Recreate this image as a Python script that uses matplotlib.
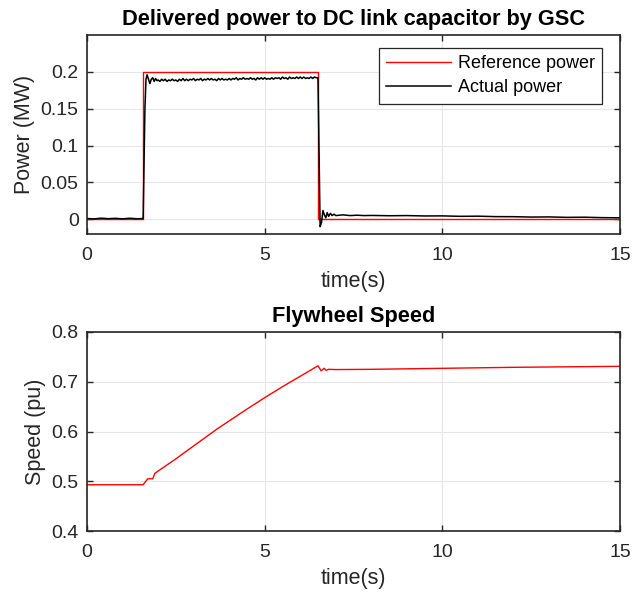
import matplotlib
matplotlib.use("Agg")
import matplotlib.pyplot as plt

plt.rcParams['font.family'] = ['Liberation Sans', 'DejaVu Sans']

# ---------------- data ----------------
ref_t = [0.0, 1.58, 1.58, 6.50, 6.50, 15.0]
ref_p = [0.0, 0.0, 0.2, 0.2, 0.0, 0.0]

act_t_pre = [0.0, 0.2, 0.4, 0.6, 0.8, 1.0, 1.2, 1.4, 1.58]
act_p_pre = [0.001, 0.0005, 0.0015, 0.0008, 0.0013, 0.0006, 0.0014, 0.0007, 0.001]

act_t_rise = [1.60, 1.63, 1.66, 1.69, 1.73, 1.77, 1.81, 1.85, 1.89, 1.93, 1.97]
act_p_rise = [0.06, 0.15, 0.19, 0.196, 0.190, 0.184, 0.190, 0.192, 0.187, 0.191, 0.188]

act_t_flat = [2.00, 2.05, 2.10, 2.15, 2.20, 2.25, 2.30, 2.35, 2.40, 2.45,
              2.50, 2.55, 2.60, 2.65, 2.70, 2.75, 2.80, 2.85, 2.90, 2.95,
              3.00, 3.05, 3.10, 3.15, 3.20, 3.25, 3.30, 3.35, 3.40, 3.45,
              3.50, 3.55, 3.60, 3.65, 3.70, 3.75, 3.80, 3.85, 3.90, 3.95,
              4.00, 4.05, 4.10, 4.15, 4.20, 4.25, 4.30, 4.35, 4.40, 4.45,
              4.50, 4.55, 4.60, 4.65, 4.70, 4.75, 4.80, 4.85, 4.90, 4.95,
              5.00, 5.05, 5.10, 5.15, 5.20, 5.25, 5.30, 5.35, 5.40, 5.45,
              5.50, 5.55, 5.60, 5.65, 5.70, 5.75, 5.80, 5.85, 5.90, 5.95,
              6.00, 6.05, 6.10, 6.15, 6.20, 6.25, 6.30, 6.35, 6.40, 6.45]
act_p_flat = [0.189, 0.187, 0.190, 0.188, 0.190, 0.187, 0.189, 0.188, 0.190, 0.188,
              0.189, 0.187, 0.190, 0.188, 0.191, 0.188, 0.190, 0.188, 0.190, 0.189,
              0.191, 0.188, 0.190, 0.189, 0.191, 0.188, 0.190, 0.189, 0.191, 0.189,
              0.191, 0.189, 0.190, 0.188, 0.191, 0.189, 0.191, 0.189, 0.190, 0.189,
              0.191, 0.189, 0.191, 0.190, 0.192, 0.189, 0.191, 0.190, 0.192, 0.190,
              0.191, 0.190, 0.192, 0.190, 0.191, 0.189, 0.192, 0.190, 0.192, 0.190,
              0.192, 0.190, 0.191, 0.190, 0.192, 0.190, 0.192, 0.191, 0.192, 0.190,
              0.193, 0.191, 0.192, 0.190, 0.193, 0.191, 0.192, 0.191, 0.193, 0.191,
              0.193, 0.191, 0.193, 0.191, 0.192, 0.191, 0.193, 0.191, 0.193, 0.192]

act_t_fall = [6.50, 6.56, 6.60, 6.64, 6.68, 6.72, 6.76, 6.80, 6.85, 6.90, 6.95,
              7.0, 7.2, 7.4, 7.6, 7.8, 8.0, 8.5, 9.0, 9.5, 10.0, 10.5, 11.0,
              11.5, 12.0, 12.5, 13.0, 13.5, 14.0, 14.5, 15.0]
act_p_fall = [0.192, -0.010, -0.004, 0.012, 0.006, 0.002, 0.009, 0.004, 0.008, 0.005, 0.007,
              0.005, 0.006, 0.005, 0.0055, 0.005, 0.0052, 0.0048, 0.005, 0.0045, 0.0046, 0.004, 0.0042,
              0.0036, 0.0035, 0.003, 0.0032, 0.0026, 0.0028, 0.0022, 0.002]

act_t = act_t_pre + act_t_rise + act_t_flat + act_t_fall
act_p = act_p_pre + act_p_rise + act_p_flat + act_p_fall

spd_t = [0.0, 1.58, 1.71, 1.85, 1.91, 2.5, 3.0, 3.68, 4.5, 5.0, 5.5, 6.0, 6.5,
         6.59, 6.67, 6.73, 6.80, 7.0, 8.0, 10.0, 12.0, 15.0]
spd_v = [0.493, 0.493, 0.505, 0.505, 0.516, 0.545, 0.571, 0.606, 0.645, 0.668, 0.690, 0.711, 0.732,
         0.722, 0.727, 0.723, 0.725, 0.7245, 0.725, 0.727, 0.729, 0.731]

top_yticks = [0, 0.05, 0.1, 0.15, 0.2]
bot_yticks = [0.4, 0.5, 0.6, 0.7, 0.8]
xticks = [0, 5, 10, 15]

# ---------------- figure ----------------
fig = plt.figure(figsize=(6.43, 5.92), dpi=100)
ax1 = fig.add_axes([0.1353, 0.6047, 0.829, 0.3362])
ax2 = fig.add_axes([0.1353, 0.1030, 0.829, 0.3362])

dark = '#262626'
TICK = 14
LAB = 15.5
TITLE = 15.7

def style(ax):
    ax.grid(True, color='#e6e6e6', linewidth=0.8)
    ax.set_axisbelow(True)
    for s in ax.spines.values():
        s.set_color(dark)
        s.set_linewidth(1.2)
    ax.tick_params(direction='in', top=True, right=True, length=4, width=1.0,
                   colors=dark, labelsize=TICK, labelcolor=dark)
    ax.tick_params(axis='x', pad=9)
    ax.tick_params(axis='y', pad=6)
    ax.set_xlim(0, 15)
    ax.set_xticks(xticks)
    ax.set_xticklabels([str(v) for v in xticks])

ax1.plot(ref_t, ref_p, color='red', lw=1.0, label='Reference power')
ax1.plot(act_t, act_p, color='black', lw=1.1, label='Actual power')
style(ax1)
ax1.set_ylim(-0.02, 0.25)
ax1.set_yticks(top_yticks)
ax1.set_yticklabels(['0', '0.05', '0.1', '0.15', '0.2'])
ax1.set_xlabel('time(s)', fontsize=LAB, color=dark, labelpad=5.5)
ax1.set_ylabel('Power (MW)', fontsize=LAB, color=dark, labelpad=4)
ax1.set_title('Delivered power to DC link capacitor by GSC', fontsize=TITLE,
              fontweight='bold', pad=7)
leg = ax1.legend(loc='upper right', bbox_to_anchor=(0.966, 0.935), borderaxespad=0,
                 fancybox=False, edgecolor=dark, fontsize=13, handlelength=3.6,
                 framealpha=1, borderpad=0.4, labelspacing=0.4, handletextpad=0.35)
leg.get_frame().set_linewidth(0.9)

ax2.plot(spd_t, spd_v, color='red', lw=1.0)
style(ax2)
ax2.set_ylim(0.4, 0.8)
ax2.set_yticks(bot_yticks)
ax2.set_yticklabels(['0.4', '0.5', '0.6', '0.7', '0.8'])
ax2.set_xlabel('time(s)', fontsize=LAB, color=dark, labelpad=5.5)
ax2.set_ylabel('Speed (pu)', fontsize=LAB, color=dark, labelpad=4)
ax2.set_title('Flywheel Speed', fontsize=TITLE, fontweight='bold', pad=7)

fig.savefig('out.png', dpi=100)
